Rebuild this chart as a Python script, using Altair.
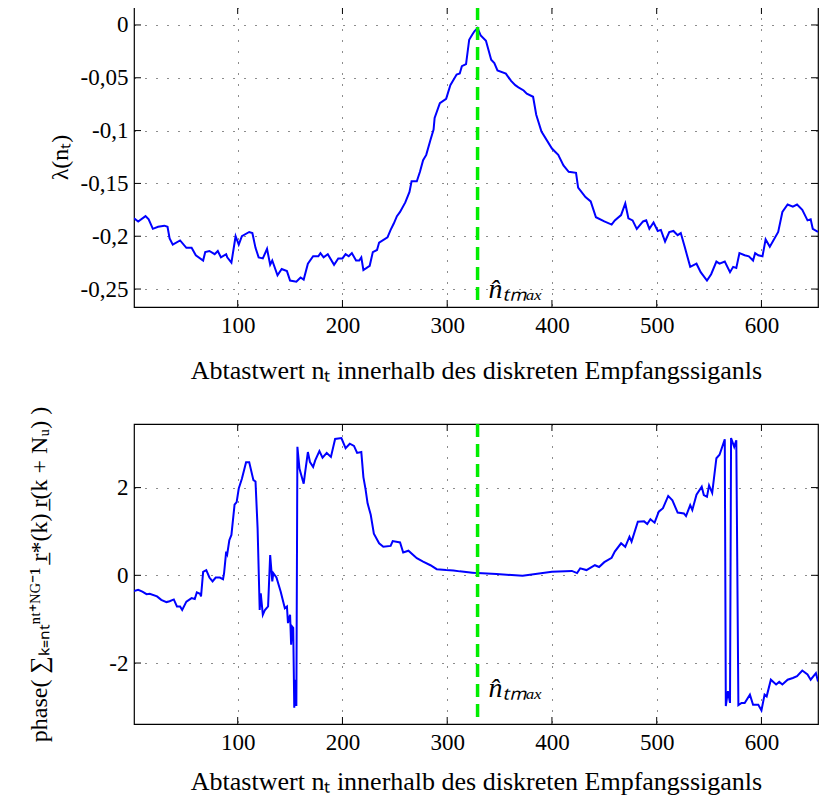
import altair as alt
import pandas as pd

# ---------------- data ----------------
n_max = 329

top_x = [1, 5, 12, 15, 19, 24, 30, 33, 35, 38,
         45, 51, 56, 60, 67, 69, 73, 78, 81, 84,
         89, 90, 94, 98, 101, 104, 111, 114, 117, 120,
         124, 128, 131, 133, 138, 142, 147, 150, 156, 160,
         163, 167, 172, 177, 179, 182, 186, 192, 196, 200,
         203, 206, 209, 213, 216, 218, 220, 226, 229, 233,
         235, 243, 246, 249, 252, 255, 260, 264, 266, 271,
         274, 277, 280, 284, 287, 288, 293, 299, 303, 309,
         312, 314, 318, 321, 324, 326, 329, 332, 337, 342,
         345, 348, 356, 361, 365, 368, 373, 376, 382, 385,
         390, 400, 406, 411, 416, 423, 425, 432, 437, 442,
         450, 457, 460, 466, 470, 473, 477, 481, 487, 490,
         493, 497, 501, 504, 508, 512, 516, 520, 523, 527,
         532, 538, 542, 548, 552, 557, 560, 565, 570, 573,
         576, 579, 584, 588, 592, 594, 597, 601, 604, 608,
         616, 620, 625, 630, 634, 639, 644, 647, 649, 654]
top_y = [-0.183, -0.186, -0.181, -0.184, -0.193, -0.191, -0.190, -0.191, -0.202, -0.208,
         -0.204, -0.211, -0.211, -0.218, -0.223, -0.215, -0.214, -0.217, -0.214, -0.220,
         -0.217, -0.220, -0.225, -0.200, -0.208, -0.200, -0.196, -0.197, -0.211, -0.220,
         -0.221, -0.212, -0.227, -0.223, -0.237, -0.231, -0.233, -0.242, -0.243, -0.239,
         -0.241, -0.226, -0.219, -0.219, -0.216, -0.220, -0.217, -0.227, -0.221, -0.221,
         -0.217, -0.219, -0.216, -0.223, -0.223, -0.220, -0.232, -0.228, -0.215, -0.213,
         -0.206, -0.201, -0.194, -0.188, -0.181, -0.177, -0.168, -0.158, -0.148, -0.148,
         -0.139, -0.128, -0.123, -0.109, -0.099, -0.088, -0.074, -0.070, -0.057, -0.047,
         -0.046, -0.039, -0.037, -0.014, -0.009, -0.006, -0.003, -0.010, -0.015, -0.033,
         -0.036, -0.043, -0.046, -0.053, -0.057, -0.059, -0.062, -0.065, -0.068, -0.085,
         -0.101, -0.117, -0.123, -0.133, -0.139, -0.140, -0.154, -0.163, -0.167, -0.182,
         -0.186, -0.189, -0.185, -0.180, -0.169, -0.183, -0.185, -0.193, -0.186, -0.185,
         -0.193, -0.187, -0.195, -0.194, -0.205, -0.196, -0.195, -0.199, -0.197, -0.211,
         -0.229, -0.226, -0.234, -0.242, -0.236, -0.224, -0.226, -0.224, -0.234, -0.229,
         -0.230, -0.216, -0.218, -0.219, -0.223, -0.216, -0.218, -0.219, -0.203, -0.210,
         -0.196, -0.177, -0.170, -0.172, -0.170, -0.175, -0.185, -0.184, -0.193, -0.196]

bot_x = [1, 5, 9, 13, 16, 23, 27, 32, 35, 39,
         42, 45, 47, 51, 56, 59, 61, 64, 65, 67,
         70, 73, 76, 79, 83, 86, 87, 89, 90, 92,
         94, 97, 99, 101, 104, 108, 111, 115, 117, 119,
         121, 122, 124, 126, 129, 131, 133, 134, 137, 141,
         145, 147, 148, 150, 151, 152, 153, 154, 155, 156,
         157, 159, 163, 164, 167, 169, 172, 174, 178, 181,
         185, 189, 193, 199, 203, 207, 211, 214, 218, 220,
         222, 224, 227, 230, 235, 239, 246, 248, 255, 258,
         263, 271, 277, 284, 290, 299, 306, 312, 324, 329,
         347, 372, 400, 419, 424, 427, 433, 441, 445, 450,
         457, 460, 466, 470, 474, 476, 482, 488, 491, 494,
         498, 502, 506, 511, 515, 520, 526, 528, 532, 534,
         538, 543, 545, 548, 550, 553, 557, 560, 565, 566,
         568, 570, 571, 574, 576, 578, 581, 584, 589, 592,
         597, 600, 603, 605, 609, 614, 617, 620, 625, 630,
         634, 639, 644, 647, 652, 654]
bot_y = [-0.36, -0.33, -0.37, -0.43, -0.42, -0.48, -0.56, -0.61, -0.59, -0.55,
         -0.71, -0.71, -0.79, -0.60, -0.52, -0.54, -0.39, -0.42, -0.48, 0.08,
         0.12, -0.05, -0.14, -0.05, -0.05, -0.09, 0.05, 0.54, 0.48, 0.80,
         0.92, 1.61, 1.67, 1.98, 2.20, 2.58, 2.58, 2.17, 2.14, 1.07,
         -0.79, -0.41, -0.90, -0.79, -0.71, 0.46, -0.14, 0.05, -0.05, -0.37,
         -0.75, -0.71, -1.09, -0.90, -1.58, -1.17, -1.20, -3.02, -2.38, -2.98,
         2.93, 2.43, 2.09, 2.28, 2.81, 2.58, 2.47, 2.62, 2.83, 2.68,
         2.79, 2.70, 3.11, 3.13, 2.90, 3.00, 2.95, 2.79, 2.81, 2.24,
         1.97, 1.64, 1.38, 0.95, 0.73, 0.65, 0.67, 0.78, 0.75, 0.52,
         0.56, 0.39, 0.31, 0.23, 0.14, 0.12, 0.11, 0.09, 0.06, 0.05,
         0.03, -0.01, 0.08, 0.10, 0.05, 0.16, 0.12, 0.23, 0.19, 0.30,
         0.40, 0.54, 0.73, 0.65, 0.88, 0.77, 1.22, 1.23, 1.17, 1.28,
         1.20, 1.45, 1.53, 1.81, 1.71, 1.43, 1.41, 1.35, 1.60, 1.49,
         1.84, 2.02, 1.83, 1.79, 2.05, 1.88, 2.67, 2.75, 3.10, -2.98,
         -2.64, -2.91, 3.13, 2.93, 3.08, -2.96, -2.91, -2.91, -2.72, -2.95,
         -2.95, -3.08, -2.72, -2.76, -2.38, -2.49, -2.43, -2.49, -2.38, -2.34,
         -2.30, -2.17, -2.26, -2.38, -2.23, -2.42]

x_ticks = [100, 200, 300, 400, 500, 600]
top_y_ticks = [0, -0.05, -0.1, -0.15, -0.2, -0.25]
bot_y_ticks = [-2, 0, 2]
x_domain = [1, 654]
top_y_domain = [-0.267, 0.017]
bot_y_domain = [-3.39, 3.45]

x_title = "Abtastwert nₜ innerhalb des diskreten Empfangssiganls"
top_y_title = "λ(nₜ)"
bot_y_title = "phase( ∑ₖ₌ₙₜⁿᵗ⁺ᴺᴳ⁻¹ r̲*(k) r̲(k + Nᵤ) )"
marker_text = "n̂ₜₘₐₓ"
top_label_y = -0.2585
bot_label_y = -2.78

W, H = 684, 300
FONT = "Liberation Serif"


def panel(xs, ys, ydomain, yticks, ytitle, label_y, label_expr, title_pad, title_size,
          x_title_pad):
    xscale = alt.Scale(domain=x_domain, nice=False, zero=False)
    yscale = alt.Scale(domain=ydomain, nice=False, zero=False)
    df = pd.DataFrame({"x": xs, "y": ys})
    xaxis = alt.Axis(values=x_ticks, title=x_title, grid=True, labelPadding=7,
                     titlePadding=x_title_pad, labelFlush=False)
    yaxis = alt.Axis(values=yticks, title=ytitle, grid=True, labelPadding=6,
                     titlePadding=title_pad, labelExpr=label_expr, titleFontSize=title_size)
    line = alt.Chart(df).mark_line(color="#0000ff", strokeWidth=2, clip=True).encode(
        x=alt.X("x:Q", scale=xscale, axis=xaxis),
        y=alt.Y("y:Q", scale=yscale, axis=yaxis),
    )
    vline = alt.Chart(pd.DataFrame({"x": [n_max]})).mark_rule(
        color="#00ee00", strokeDash=[13, 7], strokeWidth=3.5
    ).encode(x=alt.X("x:Q", scale=xscale))
    label = alt.Chart(pd.DataFrame({"x": [n_max], "y": [label_y], "t": [marker_text]})).mark_text(
        align="left", baseline="alphabetic", dx=11, font=FONT, fontStyle="italic",
        fontSize=28, color="black"
    ).encode(x=alt.X("x:Q", scale=xscale), y=alt.Y("y:Q", scale=yscale), text="t:N")
    xt = pd.DataFrame({"x": x_ticks})
    yt = pd.DataFrame({"y": yticks})
    xtick_b = alt.Chart(xt).mark_rule(color="black", strokeWidth=1).encode(
        x=alt.X("x:Q", scale=xscale), y=alt.value(H - 7), y2=alt.value(H))
    xtick_t = alt.Chart(xt).mark_rule(color="black", strokeWidth=1).encode(
        x=alt.X("x:Q", scale=xscale), y=alt.value(0), y2=alt.value(7))
    ytick_l = alt.Chart(yt).mark_rule(color="black", strokeWidth=1).encode(
        y=alt.Y("y:Q", scale=yscale), x=alt.value(0), x2=alt.value(7))
    ytick_r = alt.Chart(yt).mark_rule(color="black", strokeWidth=1).encode(
        y=alt.Y("y:Q", scale=yscale), x=alt.value(W - 7), x2=alt.value(W))
    return alt.layer(line, vline, label, xtick_b, xtick_t, ytick_l, ytick_r).properties(
        width=W, height=H)


top = panel(top_x, top_y, top_y_domain, top_y_ticks, top_y_title, top_label_y,
            "replace(toString(datum.value), '.', ',')", 8, 24, 20)
bottom = panel(bot_x, bot_y, bot_y_domain, bot_y_ticks, bot_y_title, bot_label_y,
               "toString(datum.value)", 57, 24, 14)

chart = alt.vconcat(top, bottom, spacing=117, bounds="flush").properties(
    padding={"left": 19, "top": -4, "right": 0, "bottom": 0}
).configure_view(
    stroke="black", strokeWidth=1.2
).configure_axis(
    labelFont=FONT, labelFontSize=23, labelColor="black",
    titleFont=FONT, titleFontSize=26, titleFontWeight="normal", titleColor="black",
    gridColor="black", gridDash=[1, 10], gridWidth=1, gridOpacity=0.9,
    ticks=False, domain=False
)

chart.save("out.html", embed_options={"renderer": "svg", "actions": False})
